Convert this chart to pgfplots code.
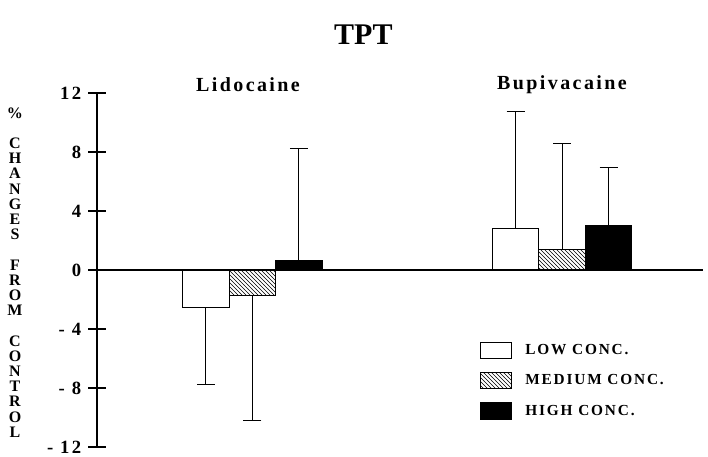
\documentclass[border=0pt]{standalone}
\usepackage{fontspec}
\setmainfont{Liberation Serif}
\newfontfamily\spc[LetterSpace=12]{Liberation Serif}
\usepackage{pgfplots}
\pgfplotsset{compat=1.18}
\usetikzlibrary{patterns}

\begin{document}
\begin{tikzpicture}[x=1pt,y=1pt]
\path[use as bounding box] (0,0) rectangle (531,342.75);
\begin{axis}[
 at={(72.75pt,7.5pt)}, anchor=south west,
 scale only axis, width=454.5pt, height=265.5pt,
 xmin=0.4985, xmax=2.455, ymin=-12, ymax=12,
 axis x line=none, axis y line=left,
 axis line style={-, line width=0.8pt, black},
 ytick={-12,-8,-4,0,4,8,12},
 yticklabels={- 12,- 8,- 4,0,4,8,12},
 yticklabel style={font=\fontsize{14}{16}\spc\bfseries, anchor=east, xshift=-2pt},
 tick align=center, major tick length=12.75pt,
 tick style={line width=0.8pt, black},
 clip=false,
 bar width=0.15, bar shift=0pt,
 error bars/y dir=both, error bars/y explicit,
 error bars/error bar style={line width=0.8pt, black},
 error bars/error mark options={rotate=90, mark size=6.75pt, line width=0.8pt, black},
 legend image code/.code={\draw[#1, line width=0.8pt] (0pt,-6pt) rectangle (23pt,6pt);},
 legend style={draw=none, fill=none, at={(0.632,0.2975)}, anchor=north west,
   font=\fontsize{11.5}{13}\spc\bfseries, row sep=9.5pt, inner sep=0pt,
   /tikz/every odd column/.append style={column sep=8pt}},
 legend cell align=left,
]
\addplot[black, line width=0.8pt, forget plot] coordinates {(0.4985,0) (2.455,0)};
\addplot[ybar, draw=black, fill=white, line width=0.8pt]
 coordinates {(0.85,-2.54) += (0,0) -= (0,5.22) (1.85,2.81) += (0,7.91) -= (0,0)};
\addlegendentry{LOW CONC.}
\addplot[ybar, draw=black, pattern=north west lines, pattern color=black, line width=0.8pt]
 coordinates {(1,-1.72) += (0,0) -= (0,8.5) (2,1.40) += (0,7.19) -= (0,0)};
\addlegendentry{MEDIUM CONC.}
\addplot[ybar, draw=black, fill=black, line width=0.8pt]
 coordinates {(1.15,0.61) += (0,7.6) -= (0,0) (2.15,3.04) += (0,3.91) -= (0,0)};
\addlegendentry{HIGH CONC.}
\end{axis}
\node[font=\fontsize{22.5}{24}\selectfont\bfseries] at (272.5,316.5) {TPT};
\node[font=\fontsize{15}{17}\spc\bfseries] at (186,279) {Lidocaine};
\node[font=\fontsize{15}{17}\spc\bfseries] at (421.5,279) {Bupivacaine};
\node[font=\fontsize{12}{11.4}\selectfont\bfseries, align=center] at (11.25,138.4)
 {\%\\ \mbox{}\\ C\\H\\A\\N\\G\\E\\S\\ \mbox{}\\ F\\R\\O\\M\\ \mbox{}\\ C\\O\\N\\T\\R\\O\\L};
\end{tikzpicture}
\end{document}
